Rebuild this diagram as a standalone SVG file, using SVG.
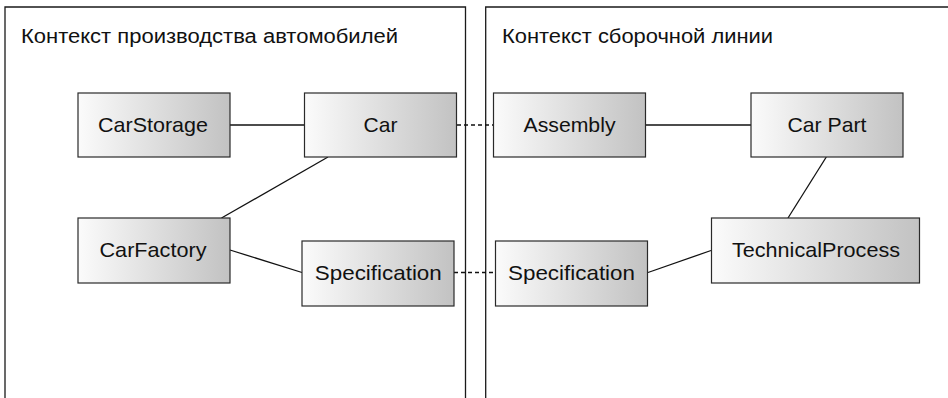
<svg xmlns="http://www.w3.org/2000/svg" width="948" height="398" viewBox="0 0 948 398">
<defs>
<linearGradient id="g" x1="0" y1="0" x2="1" y2="0">
<stop offset="0" stop-color="#fbfbfb"/>
<stop offset="1" stop-color="#c2c2c2"/>
</linearGradient>
</defs>
<style>
.ctx{fill:none;stroke:#1a1a1a;stroke-width:1.3}
.box{fill:url(#g);stroke:#2a2a2a;stroke-width:1.2}
.lbl{font-family:"Liberation Sans",Arial,sans-serif;font-size:21px;fill:#111;text-anchor:middle}
.title{font-family:"Liberation Sans",Arial,sans-serif;font-size:19.5px;fill:#111}
.ln{stroke:#111;stroke-width:1.3;fill:none}
.dash{stroke:#111;stroke-width:1.3;fill:none;stroke-dasharray:4 3}
</style>
<rect width="948" height="398" fill="#fff"/>
<g id="ctx-production">
<path class="ctx" d="M5,400 V7 H465.5 V400"/>
<text class="title" x="21" y="43" textLength="377" lengthAdjust="spacingAndGlyphs">Контекст производства автомобилей</text>
</g>
<g id="ctx-assembly">
<path class="ctx" d="M485.7,400 V7 H950"/>
<text class="title" x="502" y="43" textLength="271" lengthAdjust="spacingAndGlyphs">Контекст сборочной линии</text>
</g>
<g id="connectors">
<line class="ln" x1="230" y1="125" x2="304" y2="125"/>
<line class="ln" x1="328" y1="157" x2="221.5" y2="218"/>
<line class="ln" x1="230" y1="250" x2="302" y2="272.5"/>
<line class="dash" x1="457" y1="125" x2="493" y2="125"/>
<line class="ln" x1="646" y1="125" x2="751" y2="125"/>
<line class="ln" x1="826.3" y1="157" x2="788" y2="218"/>
<line class="dash" x1="454" y1="272.5" x2="495" y2="272.5"/>
<line class="ln" x1="648" y1="272.5" x2="711" y2="250.5"/>
</g>
<g id="n-carstorage"><rect class="box" x="78" y="93" width="152" height="64"/><text class="lbl" x="153" y="132" textLength="110" lengthAdjust="spacingAndGlyphs">CarStorage</text></g>
<g id="n-car"><rect class="box" x="304.5" y="93" width="152" height="64"/><text class="lbl" x="380.5" y="132">Car</text></g>
<g id="n-carfactory"><rect class="box" x="78" y="218" width="152" height="65"/><text class="lbl" x="153" y="257" textLength="107" lengthAdjust="spacingAndGlyphs">CarFactory</text></g>
<g id="n-spec-left"><rect class="box" x="302" y="241" width="152" height="65"/><text class="lbl" x="378.3" y="280" textLength="127" lengthAdjust="spacingAndGlyphs">Specification</text></g>
<g id="n-assembly"><rect class="box" x="493.5" y="93" width="152" height="64"/><text class="lbl" x="569.5" y="132" textLength="92" lengthAdjust="spacingAndGlyphs">Assembly</text></g>
<g id="n-carpart"><rect class="box" x="751" y="93" width="152" height="64"/><text class="lbl" x="827" y="132" textLength="79" lengthAdjust="spacingAndGlyphs">Car Part</text></g>
<g id="n-spec-right"><rect class="box" x="495.5" y="241" width="152" height="65"/><text class="lbl" x="571.5" y="280" textLength="127" lengthAdjust="spacingAndGlyphs">Specification</text></g>
<g id="n-techprocess"><rect class="box" x="711.5" y="218" width="208" height="65"/><text class="lbl" x="816" y="257" textLength="168" lengthAdjust="spacingAndGlyphs">TechnicalProcess</text></g>
</svg>
